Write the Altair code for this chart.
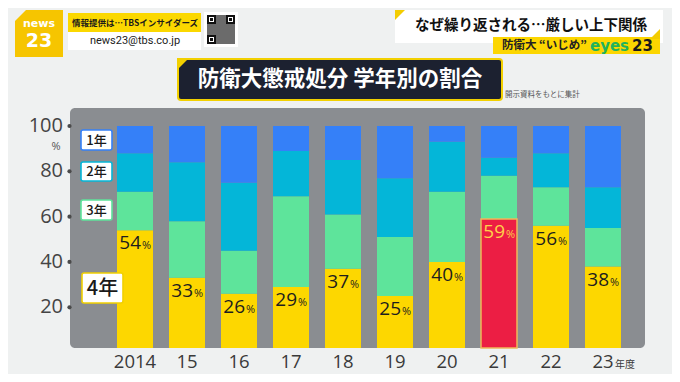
import altair as alt
import pandas as pd

# ---------------- data ----------------
years = ["2014", "2015", "2016", "2017", "2018", "2019", "2020", "2021", "2022", "2023"]
year_labels = ["2014", "15", "16", "17", "18", "19", "20", "21", "22", "23"]
year_suffix = "年度"
grades = ["1年", "2年", "3年", "4年"]
g1 = [12, 16, 25, 11, 15, 23, 7, 14, 12, 27]
g2 = [17, 26, 30, 20, 24, 26, 22, 8, 15, 18]
g3 = [17, 25, 19, 40, 24, 26, 31, 19, 17, 17]
g4 = [54, 33, 26, 29, 37, 25, 40, 59, 56, 38]
highlight_year = "2021"
y_ticks = [20, 40, 60, 80, 100]

title_text = "防衛大懲戒処分 学年別の割合"
source_note = "開示資料をもとに集計"
headline = "なぜ繰り返される…厳しい上下関係"
subhead = "防衛大 “いじめ”"
info_top = "情報提供は…TBSインサイダーズ"
info_mail = "news23@tbs.co.jp"

# ---------------- styling ----------------
JP = "Noto Sans CJK JP"
NUM = "Open Sans"
BG = "#eff1f1"
C_BLUE = "#3580f8"
C_CYAN = "#04b6d8"
C_GREEN = "#5ee49b"
C_YELLOW = "#fdd700"
C_RED = "#ec1e44"
PANEL = "#8a8d91"

values = {"1年": g1, "2年": g2, "3年": g3, "4年": g4}
rows = []
for i, y in enumerate(years):
    lo = 0
    for g in ["4年", "3年", "2年", "1年"]:
        v = values[g][i]
        key = "hl" if (y == highlight_year and g == "4年") else g
        rows.append({"year": y, "grade": g, "v": v, "lo": lo, "hi": lo + v, "key": key,
                     "num": str(v)})
        lo += v
df = pd.DataFrame(rows)
df4 = df[df.grade == "4年"]
df_lab = pd.DataFrame({"year": years, "label": year_labels})
df_suf = pd.DataFrame({"year": [years[-1]], "label": [year_suffix]})
df_ticks = pd.DataFrame({"t": y_ticks, "label": [str(t) for t in y_ticks]})

one = pd.DataFrame({"k": [0]})


def P(v):
    return v - 8


xs = alt.Scale(domain=years, range=[101, 621], paddingInner=16 / 52, paddingOuter=8 / 52)
ys = alt.Scale(domain=[2, 100], range=[340.1, 118], clamp=True)
X = alt.X("year:N", scale=xs, axis=None, sort=years)


def box(x1, y1, x2, y2, fill, stroke=None, sw=0, r=0):
    kw = dict(fill=fill, cornerRadius=r)
    if stroke:
        kw.update(stroke=stroke, strokeWidth=sw)
    else:
        kw.update(strokeWidth=0)
    return alt.Chart(one).mark_rect(**kw).encode(
        x=alt.value(P(x1)), x2=alt.value(P(x2)), y=alt.value(P(y1)), y2=alt.value(P(y2)))


def txt(s, x, y, size, color, weight="normal", align="center", font=JP, baseline="middle"):
    return alt.Chart(one).mark_text(text=s, fontSize=size, color=color, fontWeight=weight,
                                    align=align, baseline=baseline, font=font).encode(
        x=alt.value(P(x)), y=alt.value(P(y)))


def tri(x0, y0, L, color, path="M -1 -1 L 1 -1 L -1 1 Z"):
    return alt.Chart(one).mark_point(shape=path, filled=True, fill=color, opacity=1,
                                     size=L * L, strokeWidth=0).encode(
        x=alt.value(P(x0 + L / 2)), y=alt.value(P(y0 + L / 2)))


layers = []

# ---- header: logo ----
layers.append(box(15, 10, 63, 57, "#f6c500"))
layers.append(tri(15, 10, 11, BG))
layers.append(txt("news", 39, 24, 11, "#ffffff", "bold", font="DejaVu Sans"))
layers.append(txt("23", 39, 41, 19, "#ffffff", "bold", font="DejaVu Sans"))
# info box
layers.append(box(68, 13, 201, 32, "#fbd800"))
layers.append(box(68, 32, 201, 50, "#ffffff"))
layers.append(txt(info_top, 72, 22.5, 8.5, "#1a1a1a", "bold", align="left"))
layers.append(txt(info_mail, 135, 41, 11, "#222222", font="Roboto"))
# QR-like code
layers.append(box(204, 12, 238, 47, "#ffffff"))
layers.append(box(207, 15, 235, 44, "#6b6b6b"))
for (qx, qy) in [(207, 15), (226, 15), (207, 35)]:
    layers.append(box(qx, qy, qx + 9, qy + 9, "#111111"))
    layers.append(box(qx + 2, qy + 2, qx + 7, qy + 7, "#ffffff"))
    layers.append(box(qx + 3, qy + 3, qx + 6, qy + 6, "#111111"))

# headline boxes
layers.append(box(395, 10, 663, 43, "#ffffff"))
layers.append(tri(395, 10, 10, "#f3cc00"))
layers.append(txt(headline, 531, 26, 14.5, "#111111", "bold"))
layers.append(box(493, 37, 660, 54, "#fcd600"))
layers.append(tri(650, 29, 10, "#f3cc00", path="M 1 -1 L 1 1 L -1 1 Z"))
layers.append(txt(subhead, 502, 45.5, 11.5, "#222222", "bold", align="left"))
layers.append(txt("eyes", 590, 45.5, 15, "#1fb25c", "bold", align="left", font="DejaVu Sans"))
layers.append(txt("23", 632, 45.5, 15, "#1a1a1a", "bold", align="left", font="DejaVu Sans"))

# title box
layers.append(box(178, 59, 502, 100, "#1c2130", stroke="#f2d000", sw=2, r=3))
layers.append(tri(177, 58, 12, "#f2d000"))
layers.append(txt(title_text, 340, 80, 21.5, "#ffffff", "bold"))
layers.append(txt(source_note, 505, 95, 7.5, "#555555", align="left"))

# ---- plot panel ----
layers.append(box(70, 108, 645, 348, PANEL, r=5))

# stacked bars
color_scale = alt.Scale(domain=["1年", "2年", "3年", "4年", "hl"],
                        range=[C_BLUE, C_CYAN, C_GREEN, C_YELLOW, C_RED])
bars = alt.Chart(df).mark_bar(strokeWidth=0).encode(
    x=X,
    y=alt.Y("hi:Q", scale=ys, axis=None),
    y2="lo:Q",
    color=alt.Color("key:N", scale=color_scale, legend=None),
)
layers.append(bars)
hl = alt.Chart(df[df.key == "hl"]).mark_bar(fill=C_RED, stroke="#f0b85a", strokeWidth=1.5).encode(
    x=X, y=alt.Y("hi:Q", scale=ys, axis=None), y2="lo:Q")
layers.append(hl)

# percentage labels
tcolor = alt.when(alt.datum.year == highlight_year).then(alt.value("#ffd04a")).otherwise(alt.value("#1e1e1e"))
num = alt.Chart(df4).mark_text(align="right", baseline="top", dx=6, dy=4, fontSize=19,
                               font=NUM, fontWeight=500).encode(
    x=X, y=alt.Y("hi:Q", scale=ys, axis=None), text="num:N", color=tcolor)
pct = alt.Chart(df4).mark_text(align="left", baseline="top", dx=7, dy=10, fontSize=11,
                               font=NUM, text="%").encode(
    x=X, y=alt.Y("hi:Q", scale=ys, axis=None), color=tcolor)
layers += [num, pct]

# x labels
xl = alt.Chart(df_lab).mark_text(fontSize=18.5, font=NUM, color="#3a3a3a", baseline="alphabetic").encode(
    x=X, y=alt.value(P(368)), text="label:N")
xsuf = alt.Chart(df_suf).mark_text(fontSize=10, font=JP, color="#3a3a3a", baseline="alphabetic",
                                   align="left", dx=12).encode(
    x=X, y=alt.value(P(368)), text="label:N")
layers += [xl, xsuf]

# y tick labels and dots
yl = alt.Chart(df_ticks).mark_text(fontSize=20, font=NUM, color="#444444", align="right",
                                   baseline="middle").encode(
    x=alt.value(P(63)), y=alt.Y("t:Q", scale=ys, axis=None), text="label:N")
yd = alt.Chart(df_ticks).mark_circle(size=18, color="#4a4a4a", opacity=1).encode(
    x=alt.value(P(69.5)), y=alt.Y("t:Q", scale=ys, axis=None))
layers += [yl, yd]
layers.append(txt("%", 56, 147, 11, "#555555", font=NUM))

# legend tags
leg = [
    (grades[0], 81, 130, 112, 150, C_BLUE, 13),
    (grades[1], 81, 162, 112, 181, C_CYAN, 13),
    (grades[2], 81, 200, 112, 220, C_GREEN, 13),
    (grades[3], 82, 273, 123, 303, "#f1d000", 20),
]
for (lab, x1, y1, x2, y2, col, fs) in leg:
    layers.append(box(x1, y1, x2, y2, "#ffffff", stroke=col, sw=1.6, r=2))
    layers.append(txt(lab, (x1 + x2) / 2, (y1 + y2) / 2 + 0.5, fs, "#1a1a1a", 500))

chart = alt.layer(*layers).properties(
    width=664, height=366,
    autosize=alt.AutoSizeParams(type="none"),
    padding=0,
    background=BG,
).configure_view(stroke=None)

chart.save("out.html", embed_options={"renderer": "svg", "actions": False})
